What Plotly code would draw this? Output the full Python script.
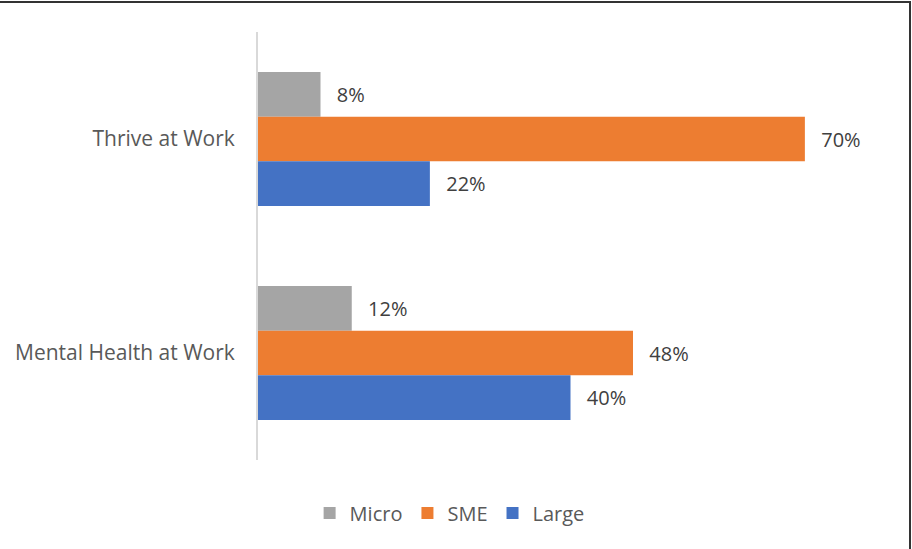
import plotly.graph_objects as go

categories = ["Thrive at Work", "Mental Health at Work"]
series_names = ["Micro", "SME", "Large"]
micro = [0.08, 0.12]
sme = [0.70, 0.48]
large = [0.22, 0.40]
colors = ["#a5a5a5", "#ed7d31", "#4472c4"]

FONT = "Open Sans"
PAD = "\u2002\u2009"
fig = go.Figure()
for name, vals, col in zip(series_names, [micro, sme, large], colors):
    fig.add_trace(go.Bar(
        y=categories, x=vals, name=name, orientation="h",
        marker=dict(color=col, line=dict(width=0)),
        text=[f"{PAD}{v*100:.0f}%" for v in vals], textposition="outside",
        textfont=dict(family=FONT, size=20, color="#404040"),
        cliponaxis=False,
    ))

W, H = 912, 549
L, R, T, B = 258, 29, 32, 89
pw, ph = W - L - R, H - T - B

def px(x):
    return (x - L) / pw

def py(y):
    return (H - B - y) / ph

fig.update_layout(
    width=W, height=H,
    margin=dict(l=L, r=R, t=T, b=B),
    barmode="group", bargap=0.374, bargroupgap=0,
    paper_bgcolor="white", plot_bgcolor="white",
    font=dict(family=FONT, size=21, color="#595959"),
    xaxis=dict(visible=False, range=[0, 0.8], showgrid=False, zeroline=False),
    yaxis=dict(autorange="reversed", showline=True, linecolor="#d9d9d9", linewidth=2,
               ticks="outside", ticklen=17, tickcolor="rgba(0,0,0,0)", showgrid=False,
               tickfont=dict(family=FONT, size=21, color="#595959")),
    legend=dict(orientation="h", xref="container", yref="container", x=0.493, y=1 - 513 / H,
                xanchor="center", yanchor="middle", font=dict(family=FONT, size=20, color="#595959"),
                itemwidth=30, tracegroupgap=0),
    showlegend=True,
    shapes=[
        dict(type="line", xref="paper", yref="paper", x0=px(0), x1=px(911), y0=py(2), y1=py(2),
             line=dict(color="#333333", width=2)),
        dict(type="line", xref="paper", yref="paper", x0=px(910), x1=px(910), y0=py(2), y1=py(549),
             line=dict(color="#333333", width=2)),
    ],
)

fig.write_html("out.html")
